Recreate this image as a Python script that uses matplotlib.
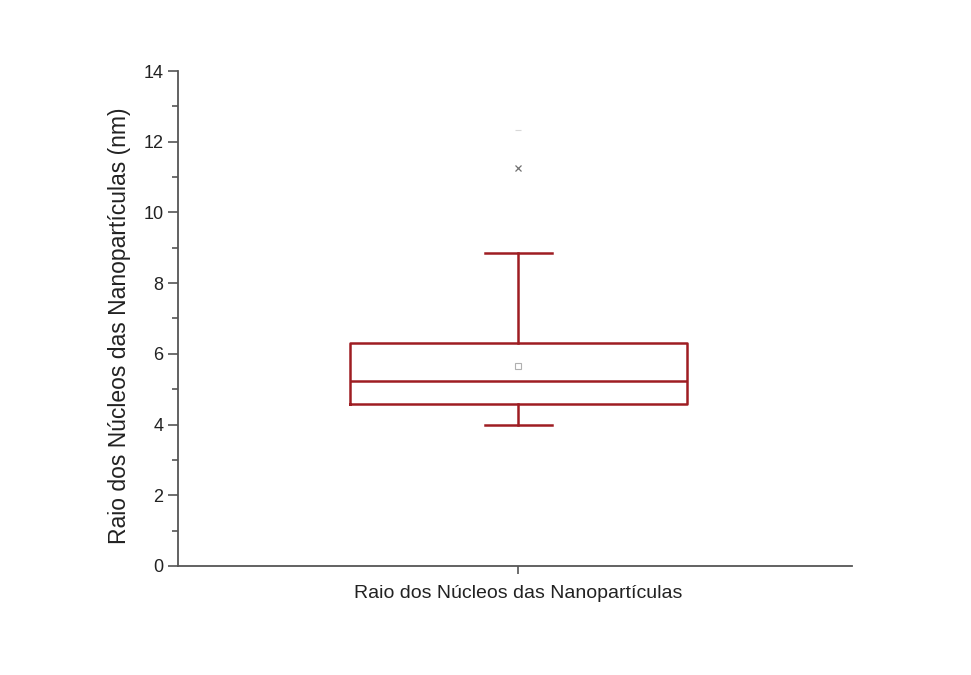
import matplotlib
matplotlib.use("Agg")
import matplotlib.pyplot as plt
from matplotlib.ticker import MultipleLocator

plt.rcParams['font.family'] = ['Liberation Sans', 'DejaVu Sans']

# Summary statistics of the core radii (nm)
category = "Raio dos Núcleos das Nanopartículas"
whisker_low = 3.99
q1 = 4.58
median = 5.23
q3 = 6.31
whisker_high = 8.85
mean = 5.66
pct99 = [11.26]
maximum = [12.33]
y_ticks = [0, 2, 4, 6, 8, 10, 12, 14]

box_color = "#9e1d22"

fig = plt.figure(figsize=(9.71, 6.75), dpi=100)
ax = fig.add_axes([0.1833, 0.1615, 0.6941, 0.7333])

stats = [dict(label=category, whislo=whisker_low, q1=q1, med=median,
              q3=q3, whishi=whisker_high, mean=mean, fliers=[])]
ax.bxp(stats, positions=[1.005], widths=0.5, showmeans=True, showfliers=False,
       boxprops=dict(color=box_color, linewidth=1.8),
       medianprops=dict(color=box_color, linewidth=1.8),
       whiskerprops=dict(color=box_color, linewidth=1.8),
       capprops=dict(color=box_color, linewidth=1.8),
       capwidths=0.1,
       meanprops=dict(marker='s', markersize=4, markerfacecolor='none',
                      markeredgecolor='#b0b0b0', markeredgewidth=0.8))

ax.plot([1.005] * len(pct99), pct99, linestyle='none', marker='x',
        markersize=5, color='#707070', markeredgewidth=0.9)
ax.plot([1.005] * len(maximum), maximum, linestyle='none', marker='_',
        markersize=4, color='#d8d8d8', markeredgewidth=0.8)

ax.set_xlim(0.5, 1.5)
ax.set_ylim(0, 14)
ax.set_yticks(y_ticks)
ax.yaxis.set_minor_locator(MultipleLocator(1))
ax.set_xticks([1.005])
ax.set_xticklabels([category], fontsize=14, color='#222222')

for side in ('top', 'right'):
    ax.spines[side].set_visible(False)
for side in ('left', 'bottom'):
    ax.spines[side].set_color('#555555')
    ax.spines[side].set_linewidth(1.3)

ax.tick_params(axis='y', which='major', direction='out', length=7,
               width=1.2, color='#555555', labelsize=13, labelcolor='#222222')
ax.tick_params(axis='y', which='minor', direction='out', length=4,
               width=1.2, color='#555555')
ax.tick_params(axis='x', direction='out', length=6, width=1.2,
               color='#555555', pad=8)

ax.set_ylabel("Raio dos Núcleos das Nanopartículas (nm)", fontsize=16.5,
              color='#222222', labelpad=10)
ax.yaxis.set_label_coords(-0.070, 0.485)

fig.savefig("out.png", dpi=100, facecolor='white')
